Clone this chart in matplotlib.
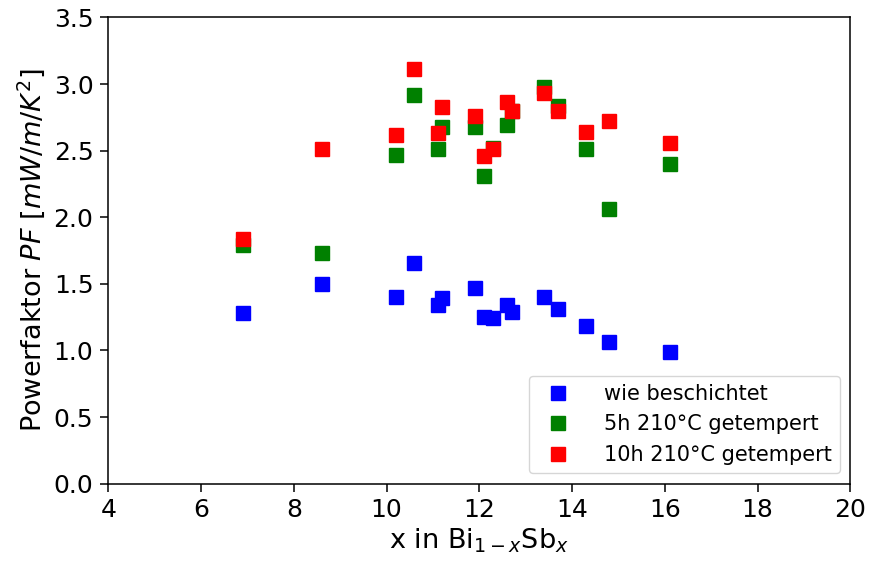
import matplotlib
matplotlib.use("Agg")
import matplotlib.pyplot as plt

x = [6.9, 8.6, 10.2, 10.6, 11.1, 11.2, 11.9, 12.1, 12.3, 12.6, 12.7, 13.4, 13.7, 14.3, 14.8, 16.1]
pf_wie = [1.28, 1.495, 1.40, 1.66, 1.34, 1.39, 1.47, 1.25, 1.245, 1.34, 1.285, 1.40, 1.31, 1.18, 1.067, 0.99]
pf_5h = [1.79, 1.73, 2.47, 2.92, 2.51, 2.68, 2.68, 2.31, 2.52, 2.69, 2.80, 2.98, 2.835, 2.51, 2.06, 2.40]
pf_10h = [1.84, 2.51, 2.615, 3.115, 2.63, 2.825, 2.76, 2.457, 2.515, 2.865, 2.80, 2.935, 2.80, 2.64, 2.72, 2.555]

fig = plt.figure(figsize=(8.69, 5.63), dpi=100)
ax = fig.add_axes([0.1246, 0.141, 0.854, 0.828])

ax.plot(x, pf_wie, "s", color="b", ms=9.6, label="wie beschichtet")
ax.plot(x, pf_5h, "s", color="g", ms=9.6, label="5h 210°C getempert")
ax.plot(x, pf_10h, "s", color="r", ms=9.6, label="10h 210°C getempert")

ax.set_xlim(4, 20)
ax.set_ylim(0, 3.5)
ax.tick_params(labelsize=18, length=5.7, width=1.1, pad=5)
for s in ax.spines.values():
    s.set_linewidth(1.1)
ax.set_xlabel("x in Bi$_{1-x}$Sb$_x$", fontsize=19.5, labelpad=3)
ax.set_ylabel("Powerfaktor $PF$ [$mW/m/K^2$]", fontsize=19.5, labelpad=5)
ax.legend(loc="lower right", fontsize=15, handletextpad=1.2)

fig.savefig("out.png", dpi=100)
